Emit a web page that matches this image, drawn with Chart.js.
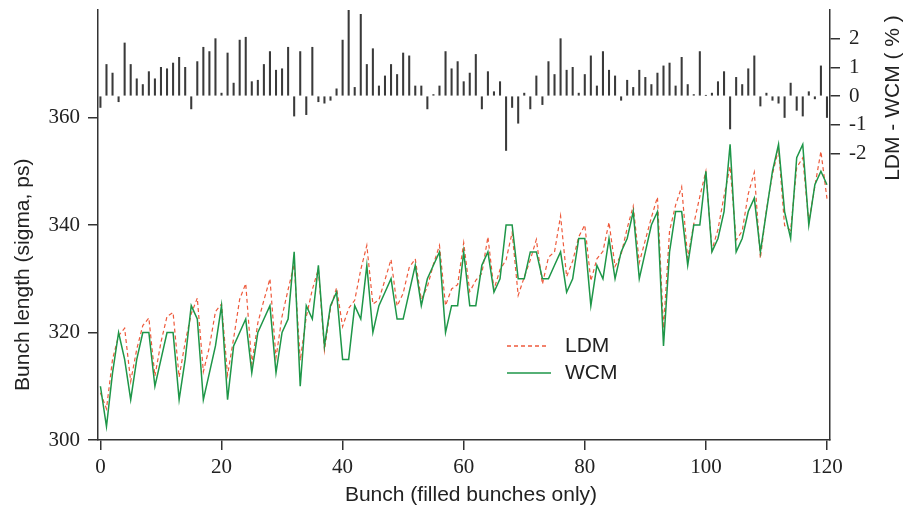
<!DOCTYPE html>
<html>
<head>
<meta charset="utf-8">
<script src="https://cdn.jsdelivr.net/npm/chart.js@4"></script>
<style>
  html, body { margin: 0; padding: 0; background: #fff; }
  canvas { display: block; }
</style>
</head>
<body>
<canvas id="bunchChart" width="904" height="510"></canvas>
<script>
// bunch length from the wall current monitor (ps)
const wcm = [310, 302.5, 312.5, 320, 315, 307.5, 315, 320, 320, 310,
  315, 320, 320, 307.5, 315, 325, 322.5, 307.5, 312.5, 317.5,
  325, 307.5, 317.5, 320, 322.5, 312.5, 320, 322.5, 325, 312.5,
  320, 322.5, 335, 310, 325, 322.5, 332.5, 317.5, 325, 327.5,
  315, 315, 325, 322.5, 332.5, 320, 325, 327.5, 330, 322.5,
  322.5, 327.5, 332.5, 325, 330, 332.5, 335, 320, 325, 325,
  335, 325, 325, 332.5, 335, 327.5, 330, 340, 340, 330,
  330, 335, 335, 330, 330, 332.5, 335, 327.5, 330, 337.5,
  337.5, 325, 332.5, 330, 337.5, 330, 335, 337.5, 342.5, 330,
  335, 340, 342.5, 317.5, 335, 342.5, 342.5, 332.5, 340, 340,
  350, 335, 337.5, 342.5, 355, 335, 337.5, 342.5, 345, 335,
  342.5, 350, 355, 342.5, 337.5, 352.5, 355, 340, 347.5, 350,
  347.5];

// bunch length from the longitudinal density monitor (ps)
const ldm = [308.8, 305.8, 315.0, 319.4, 320.8, 310.9, 316.9, 321.3, 322.7, 311.9,
  318.2, 323.0, 323.7, 311.7, 318.2, 323.5, 326.4, 312.7, 317.3, 323.9,
  325.3, 312.1, 318.9, 326.2, 329.1, 314.1, 321.8, 326.0, 330.0, 315.3,
  323.0, 328.0, 332.7, 314.8, 322.9, 328.0, 331.8, 316.7, 324.5, 328.3,
  321.1, 324.5, 326.0, 331.7, 336.2, 325.3, 326.1, 329.8, 333.6, 324.9,
  327.3, 332.1, 333.7, 326.1, 328.5, 332.7, 336.2, 325.0, 328.1, 328.9,
  336.7, 327.6, 329.7, 331.0, 337.8, 328.0, 331.7, 333.5, 338.6, 326.9,
  330.3, 333.5, 337.3, 329.0, 334.0, 335.0, 341.7, 330.4, 333.3, 337.8,
  340.0, 329.6, 333.7, 335.1, 340.5, 332.3, 334.5, 339.4, 343.5, 333.0,
  337.2, 341.4, 345.2, 320.8, 338.9, 343.7, 347.1, 333.8, 340.2, 345.3,
  350.0, 335.3, 339.2, 345.4, 350.9, 337.2, 338.9, 345.8, 349.8, 333.8,
  342.8, 349.5, 354.1, 339.9, 339.0, 350.7, 352.5, 340.5, 347.2, 353.7,
  344.9];

// LDM - WCM difference (%)
const diff = [-0.4, 1.1, 0.8, -0.2, 1.85, 1.1, 0.6, 0.4, 0.85, 0.6,
  1.0, 0.95, 1.15, 1.35, 1.0, -0.45, 1.2, 1.7, 1.55, 2.0,
  0.1, 1.5, 0.45, 1.95, 2.05, 0.5, 0.55, 1.1, 1.55, 0.9,
  0.95, 1.7, -0.7, 1.55, -0.65, 1.7, -0.2, -0.25, -0.15, 0.25,
  1.95, 3.0, 0.3, 2.85, 1.1, 1.65, 0.35, 0.7, 1.1, 0.75,
  1.5, 1.4, 0.35, 0.35, -0.45, 0.05, 0.35, 1.55, 0.95, 1.2,
  0.5, 0.8, 1.45, -0.45, 0.85, 0.15, 0.5, -1.9, -0.4, -0.95,
  0.1, -0.45, 0.7, -0.3, 1.2, 0.75, 2.0, 0.9, 1.0, 0.1,
  0.75, 1.4, 0.35, 1.55, 0.9, 0.7, -0.15, 0.55, 0.3, 0.9,
  0.65, 0.4, 0.8, 1.05, 1.15, 0.35, 1.35, 0.4, 0.05, 1.55,
  0.02, 0.1, 0.5, 0.85, -1.15, 0.65, 0.4, 0.95, 1.4, -0.35,
  0.1, -0.15, -0.25, -0.75, 0.45, -0.5, -0.7, 0.15, -0.1, 1.05,
  -0.75];

const bunch = wcm.map((_, i) => i);

const xTicks = [0, 20, 40, 60, 80, 100, 120];
const yTicks = [300, 320, 340, 360];
const diffTicks = [-2, -1, 0, 1, 2];

const axisColor = '#333';
const tickFont = { family: 'Liberation Serif', size: 21 };
const sansFont = '21px "Liberation Sans", Arial, sans-serif';

const toPoints = arr => arr.map((v, i) => ({ x: bunch[i], y: v }));
const fixTicks = list => scale => { scale.ticks = list.map(v => ({ value: v })); };
const fixWidth = w => s => { s.width = w; s.paddingTop = 0; s.paddingBottom = 0; };

// axis titles and the small legend inside the plot
const annotations = {
    id: 'annotations',
    afterDraw(chart) {
        const ctx = chart.ctx;
        const area = chart.chartArea;
        const y = chart.scales.y;
        const y2 = chart.scales.y2;
        ctx.save();
        ctx.fillStyle = '#222';
        ctx.font = sansFont;
        ctx.textBaseline = 'middle';
        ctx.textAlign = 'center';

        ctx.fillText('Bunch (filled bunches only)', (area.left + area.right) / 2 + 7, 495);

        ctx.save();
        ctx.translate(23, y.getPixelForValue(330) - 4);
        ctx.rotate(-Math.PI / 2);
        ctx.fillText('Bunch length (sigma, ps)', 0, 0);
        ctx.restore();

        ctx.save();
        ctx.translate(893, y2.getPixelForValue(0) + 2);
        ctx.rotate(-Math.PI / 2);
        ctx.fillText('LDM - WCM ( % )', 0, 0);
        ctx.restore();

        // legend
        const lx = 507, ly = 346, gap = 27;
        ctx.lineWidth = 1.3;
        ctx.strokeStyle = '#ee5a3c';
        ctx.setLineDash([4, 3]);
        ctx.beginPath();
        ctx.moveTo(lx, ly);
        ctx.lineTo(lx + 42, ly);
        ctx.stroke();
        ctx.setLineDash([]);
        ctx.strokeStyle = '#1e9648';
        ctx.lineWidth = 1.5;
        ctx.beginPath();
        ctx.moveTo(lx, ly + gap);
        ctx.lineTo(lx + 44, ly + gap);
        ctx.stroke();
        ctx.textAlign = 'left';
        ctx.fillText('LDM', 565, ly);
        ctx.fillText('WCM', 565, ly + gap);
        ctx.restore();
    }
};

new Chart(document.getElementById('bunchChart').getContext('2d'), {
    type: 'line',
    data: {
        datasets: [{
            label: 'WCM',
            data: toPoints(wcm),
            borderColor: '#1e9648',
            borderWidth: 1.5,
            pointRadius: 0,
            tension: 0,
            yAxisID: 'y',
            order: 0
        }, {
            label: 'LDM',
            data: toPoints(ldm),
            borderColor: '#ee5a3c',
            borderWidth: 1.2,
            borderDash: [4, 3],
            pointRadius: 0,
            tension: 0,
            yAxisID: 'y',
            order: 1
        }, {
            type: 'bar',
            label: 'LDM - WCM',
            data: toPoints(diff),
            backgroundColor: '#3a3a3a',
            barThickness: 1.4,
            yAxisID: 'y2',
            order: 2
        }]
    },
    options: {
        responsive: false,
        animation: false,
        devicePixelRatio: 1,
        layout: { padding: { top: 10, left: 0, right: 0, bottom: 0 } },
        plugins: {
            legend: { display: false },
            tooltip: { enabled: false }
        },
        scales: {
            x: {
                type: 'linear',
                min: -0.4,
                max: 120.5,
                offset: false,
                afterBuildTicks: fixTicks(xTicks),
                afterFit: s => { s.height = 70; },
                grid: { display: true, drawOnChartArea: false, drawTicks: true, tickLength: 10, color: axisColor, lineWidth: 1.5, offset: false },
                border: { display: true, color: axisColor, width: 1.5 },
                ticks: { font: tickFont, color: '#222', padding: 5, maxRotation: 0, autoSkip: false }
            },
            y: {
                position: 'left',
                min: 300,
                max: 380,
                afterBuildTicks: fixTicks(yTicks),
                afterFit: fixWidth(98),
                grid: { display: true, drawOnChartArea: false, drawTicks: true, tickLength: 10, color: axisColor, lineWidth: 1.5 },
                border: { display: true, color: axisColor, width: 1.5 },
                ticks: { font: tickFont, color: '#222', padding: 8 }
            },
            y2: {
                position: 'right',
                min: -12,
                max: 3,
                afterBuildTicks: fixTicks(diffTicks),
                afterFit: fixWidth(74),
                grid: { display: true, drawOnChartArea: false, drawTicks: true, tickLength: 10, color: axisColor, lineWidth: 1.5 },
                border: { display: true, color: axisColor, width: 1.5 },
                ticks: { font: tickFont, color: '#222', padding: 9, callback: v => String(v) }
            }
        }
    },
    plugins: [annotations]
});
</script>
</body>
</html>
